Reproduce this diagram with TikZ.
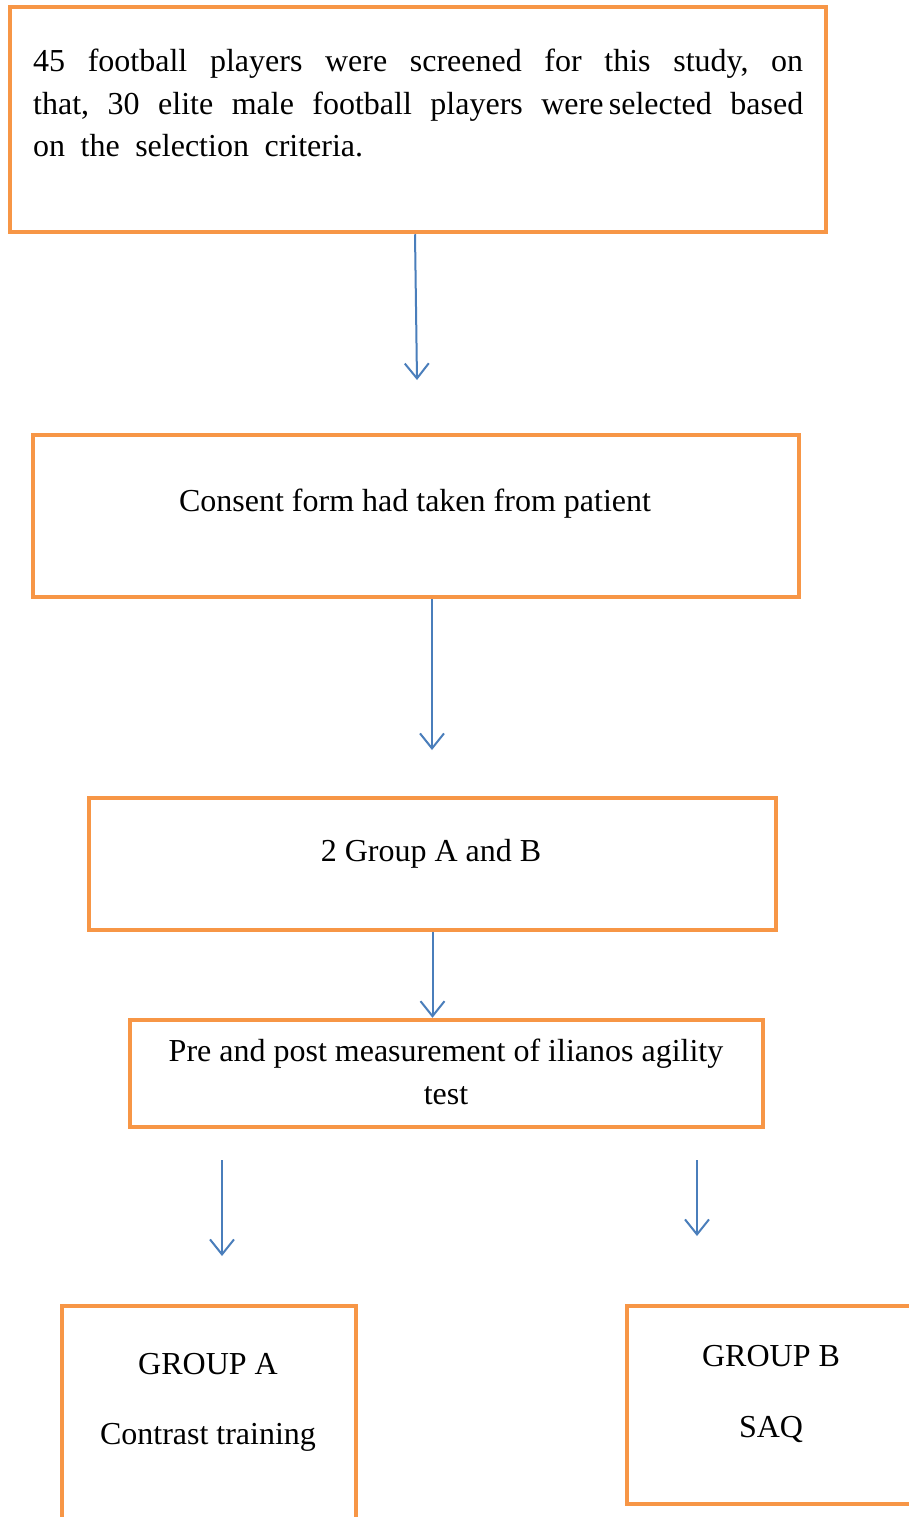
\documentclass[tikz,border=0pt]{standalone}
\usepackage{fontspec}
\setmainfont{Liberation Serif}
\usetikzlibrary{arrows.meta}
\definecolor{boxorange}{HTML}{F79646}
\definecolor{arrowblue}{HTML}{4A7EBB}
\tikzset{
  flowbox/.style={draw=boxorange, line width=4.5pt, rectangle, inner sep=0pt},
  flowtext/.style={inner sep=0pt, font=\fontsize{32}{42.5}\selectfont},
  flowarrow/.style={draw=arrowblue, line width=2pt, -{Straight Barb[length=15pt,width=24pt,line width=2pt]}}
}
\begin{document}
\begin{tikzpicture}[x=1pt,y=-1pt]
\useasboundingbox (0,0) rectangle (908,1517);
\fill[white] (0,0) rectangle (908,1517);
% boxes
\node[flowbox, minimum width=816pt, minimum height=225pt] (b1) at (418,119.5) {};
\node[flowbox, minimum width=766pt, minimum height=162pt] (b2) at (416,516) {};
\node[flowbox, minimum width=687pt, minimum height=132pt] (b3) at (432.5,864) {};
\node[flowbox, minimum width=633pt, minimum height=107pt] (b4) at (446.5,1073.5) {};
\node[flowbox, minimum width=294pt, minimum height=230pt] (b5) at (209,1421) {};
\node[flowbox, minimum width=293pt, minimum height=198pt] (b6) at (773.5,1405) {};
% texts
\node[flowtext, anchor=base west, text width=770pt, align=left] (t1) at (33,72)
  {\makebox[770pt][l]{45\hfill football\hfill players\hfill were\hfill screened\hfill for\hfill this\hfill study,\hfill on}\\
   \makebox[770pt][l]{that,\hfill 30\hfill elite\hfill male\hfill football\hfill players\hfill were\,selected\hfill based}\\
   on\hspace{15.5pt}the\hspace{15.5pt}selection\hspace{15.5pt}criteria.};
\node[flowtext, anchor=base] (t2) at (415,511) {Consent form had taken from patient};
\node[flowtext, anchor=base] (t3) at (431,861) {2 Group A and B};
\node[flowtext, anchor=base, align=center] (t4) at (446,1104) {Pre and post measurement of ilianos agility\\test};
\node[flowtext, anchor=base, align=center] (t5) at (208,1444) {GROUP A\\[27.5pt]Contrast training};
\node[flowtext, anchor=base, align=center] (t6) at (771,1437) {GROUP B\\[28.5pt]SAQ};
% arrows
\coordinate (e1) at (417,380);
\coordinate (e2) at (432,750);
\coordinate (s4) at (222,1160);
\coordinate (e4) at (222,1256);
\coordinate (s5) at (697,1160);
\coordinate (e5) at (697,1236);
\draw[flowarrow] ([xshift=-3pt]b1.south) -- (e1);
\draw[flowarrow] (b2.south -| e2) -- (e2);
\draw[flowarrow] (b3.south) -- (b4.north -| b3.south);
\draw[flowarrow] (s4) -- (e4);
\draw[flowarrow] (s5) -- (e5);
\end{tikzpicture}
\end{document}
